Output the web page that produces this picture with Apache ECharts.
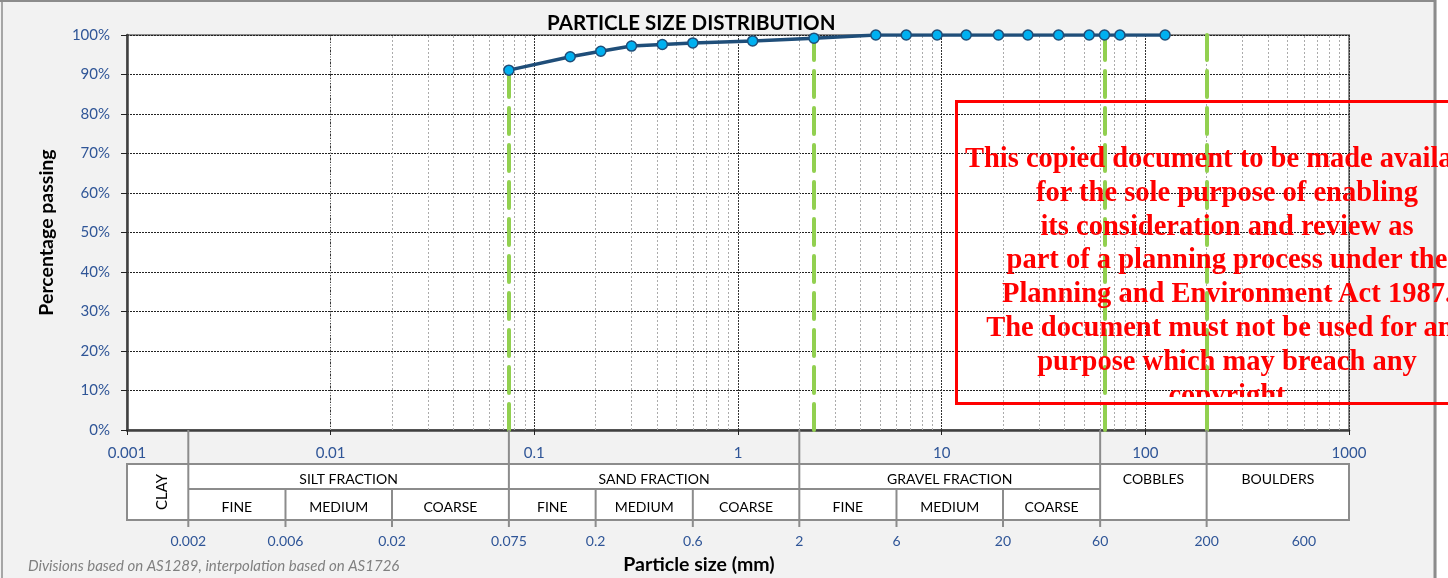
<!DOCTYPE html>
<html><head><meta charset="utf-8">
<script src="https://cdn.jsdelivr.net/npm/echarts@6/dist/echarts.min.js"></script>
<style>
html,body{margin:0;padding:0;background:#F2F2F2;overflow:hidden;}
#c{width:1448px;height:578px;position:absolute;left:0;top:0;}
#wm{position:absolute;left:955px;top:100px;width:600px;height:305px;box-sizing:border-box;border:3px solid #FF0000;pointer-events:none;}
#wmclip{position:absolute;left:0;top:0;width:600px;height:294px;overflow:hidden;}
#wmtext{position:absolute;left:-81px;top:38px;width:700px;text-align:center;font-family:"Liberation Serif","Times New Roman",serif;font-weight:bold;font-size:28.5px;line-height:33.8px;color:#FF0000;white-space:nowrap;}
</style>
</head><body><div id="c"></div>
<div id="wm"><div id="wmclip"><div id="wmtext">This copied document to be made available<br>for the sole purpose of enabling<br>its consideration and review as<br>part of a planning process under the<br>Planning and Environment Act 1987.<br>The document must not be used for any<br>purpose which may breach any<br>copyright</div></div></div>
<script>
// ---- data ----
const sieveSizes = [0.075, 0.15, 0.212, 0.3, 0.425, 0.6, 1.18, 2.36, 4.75, 6.7, 9.5, 13.2, 19, 26.5, 37.5, 53, 63, 75, 125];
const percentPassing = [91.1, 94.5, 95.9, 97.2, 97.6, 98.0, 98.5, 99.2, 100, 100, 100, 100, 100, 100, 100, 100, 100, 100, 100];
const refSizes = [0.075, 2.36, 63, 200];
const refPassing = [91.1, 99.2, 100, 100];
const xTickLabels = ['0.001', '0.01', '0.1', '1', '10', '100', '1000'];
const yTickLabels = ['0%', '10%', '20%', '30%', '40%', '50%', '60%', '70%', '80%', '90%', '100%'];
const majorBounds = [0.002, 0.075, 2, 60, 200];
const minorBounds = [0.006, 0.02, 0.2, 0.6, 6, 20];
const boundLabels = ['0.002', '0.006', '0.02', '0.075', '0.2', '0.6', '2', '6', '20', '60', '200', '600'];
const fractionNames = ['SILT FRACTION', 'SAND FRACTION', 'GRAVEL FRACTION'];
const fractionRanges = [[0.002, 0.075], [0.075, 2], [2, 60]];
const subNames = ['FINE', 'MEDIUM', 'COARSE', 'FINE', 'MEDIUM', 'COARSE', 'FINE', 'MEDIUM', 'COARSE'];
const subRanges = [[0.002, 0.006], [0.006, 0.02], [0.02, 0.075], [0.075, 0.2], [0.2, 0.6], [0.6, 2], [2, 6], [6, 20], [20, 60]];
const bigCellNames = ['COBBLES', 'BOULDERS'];
const bigCellRanges = [[60, 200], [200, 1000]];

// minor log gridlines (2..9 per decade)
const minorGrid = [];
for (let e = -3; e < 3; e++) for (let m = 2; m <= 9; m++) minorGrid.push({ xAxis: Number((m * Math.pow(10, e)).toPrecision(6)) });

const FONT = 'Lato, "Open Sans", sans-serif';
const BLUE = '#2F5597';
const chart = echarts.init(document.getElementById('c'), null, { renderer: 'canvas' });

const option = {
  backgroundColor: '#F2F2F2',
  animation: false,
  title: {
    text: 'PARTICLE SIZE DISTRIBUTION', left: 542, top: 8,
    textStyle: { fontFamily: FONT, fontWeight: 'bold', fontSize: 20.5, color: '#000' }
  },
  grid: { left: 127, right: 99, top: 35, bottom: 148, show: true, backgroundColor: '#FFFFFF', borderColor: '#8C8C8C', borderWidth: 2 },
  xAxis: {
    type: 'log', logBase: 10, min: 0.001, max: 1000, splitNumber: 6,
    axisLine: { onZero: false, lineStyle: { color: '#404040', width: 2.5 } },
    axisTick: { show: true, length: 5, lineStyle: { color: '#222', width: 1 } },
    axisLabel: {
      margin: 16, color: BLUE, fontFamily: FONT, fontSize: 15,
      formatter: v => { const s = String(Number(v.toPrecision(6))); return xTickLabels.includes(s) ? s : ''; }
    },
    splitLine: { show: true, lineStyle: { color: '#333', width: 1, type: [2, 1] } },
    minorTick: { show: false }
  },
  yAxis: {
    type: 'value', min: 0, max: 100, interval: 10,
    name: 'Percentage passing', nameLocation: 'middle', nameGap: 70, nameRotate: 90,
    nameTextStyle: { fontFamily: FONT, fontWeight: 'bold', fontSize: 19.5, color: '#000' },
    axisLine: { show: true, lineStyle: { color: '#404040', width: 2.5 } },
    axisTick: { show: true, length: 6, lineStyle: { color: '#222', width: 1 } },
    axisLabel: { margin: 17, color: BLUE, fontFamily: FONT, fontSize: 15, formatter: (v) => yTickLabels[Math.round(v / 10)] },
    splitLine: { show: true, lineStyle: { color: '#222', width: 1, type: [2, 1] } }
  },
  series: [
    {
      name: 'minorgrid', type: 'line', data: [], silent: true, z: 1,
      markLine: { silent: true, symbol: 'none', label: { show: false }, animation: false,
        lineStyle: { color: '#ABABAB', width: 1, type: [2, 2] }, data: minorGrid }
    },
    {
      name: 'refs', type: 'line', data: [], silent: true, z: 2,
      markLine: { silent: true, symbol: 'none', label: { show: false }, animation: false,
        lineStyle: { color: '#92D050', width: 4, type: [26, 11], cap: 'round' },
        data: refSizes.map((s, i) => [{ coord: [s, 0] }, { coord: [s, refPassing[i]] }]) }
    },
    {
      name: 'PSD', type: 'line', z: 5,
      data: sieveSizes.map((s, i) => [s, percentPassing[i]]),
      lineStyle: { color: '#1F4E79', width: 3.5 },
      symbol: 'circle', symbolSize: 10,
      itemStyle: { color: '#00B0F0', borderColor: '#1F4E79', borderWidth: 1.5 }
    }
  ]
};
chart.setOption(option);

// ---- table under the axis, positioned through the x scale ----
const px = v => chart.convertToPixel({ xAxisIndex: 0 }, v);
const AXIS_Y = chart.convertToPixel({ yAxisIndex: 0 }, 0);
const T_TOP = 464, T_MID = 489, T_BOT = 520, L_END = 527, LBL_Y = 541;
const GRAY = '#8C8C8C';
const g = [];
const lineEl = (x1, y1, x2, y2) => ({ type: 'line', silent: true, z: 10, shape: { x1, y1, x2, y2 }, style: { stroke: GRAY, lineWidth: 2 } });
const textEl = (x, y, text, opts) => Object.assign({ type: 'text', silent: true, z: 11, x, y, style: Object.assign({ text, fill: '#000', font: '14px ' + FONT, textAlign: 'center', textVerticalAlign: 'middle' }, opts || {}) });

g.push({ type: 'rect', silent: true, z: 9, shape: { x: px(0.001), y: T_TOP, width: px(1000) - px(0.001), height: T_BOT - T_TOP }, style: { fill: '#fff', stroke: GRAY, lineWidth: 2 } });
g.push(lineEl(px(0.002), T_MID, px(60), T_MID));
majorBounds.forEach(b => g.push(lineEl(px(b), AXIS_Y, px(b), L_END)));
minorBounds.forEach(b => g.push(lineEl(px(b), T_MID, px(b), L_END)));
// clay
g.push({ type: 'text', silent: true, z: 11, x: (px(0.001) + px(0.002)) / 2 + 5, y: (T_TOP + T_BOT) / 2, rotation: Math.PI / 2,
  style: { text: 'CLAY', fill: '#000', font: '15px ' + FONT, textAlign: 'center', textVerticalAlign: 'middle' } });
fractionNames.forEach((n, i) => g.push(textEl((px(fractionRanges[i][0]) + px(fractionRanges[i][1])) / 2, 479, n)));
subNames.forEach((n, i) => g.push(textEl((px(subRanges[i][0]) + px(subRanges[i][1])) / 2, 507, n)));
bigCellNames.forEach((n, i) => g.push(textEl((px(bigCellRanges[i][0]) + px(bigCellRanges[i][1])) / 2, 479, n)));
boundLabels.forEach(l => g.push(textEl(px(Number(l)), LBL_Y, l, { fill: BLUE })));
// axis title & footnote
g.push(textEl(699, 565, 'Particle size (mm)', { font: 'bold 19.5px ' + FONT }));
g.push(textEl(28, 566, 'Divisions based on AS1289, interpolation based on AS1726', { font: 'italic 15px ' + FONT, fill: '#808080', textAlign: 'left' }));
// outer chart-area border
g.push({ type: 'line', silent: true, z: 8, shape: { x1: 0, y1: 1, x2: 1435, y2: 1 }, style: { stroke: '#8C8C8C', lineWidth: 2 } });
g.push({ type: 'line', silent: true, z: 8, shape: { x1: 1435, y1: 0, x2: 1435, y2: 578 }, style: { stroke: '#8C8C8C', lineWidth: 3 } });
g.push({ type: 'line', silent: true, z: 8, shape: { x1: 2, y1: 0, x2: 2, y2: 578 }, style: { stroke: '#8C8C8C', lineWidth: 1.5 } });
g.push({ type: 'rect', silent: true, z: 7, shape: { x: 1437, y: 0, width: 11, height: 578 }, style: { fill: '#fff' } });

chart.setOption({ graphic: { elements: g } });
</script>
</body></html>
